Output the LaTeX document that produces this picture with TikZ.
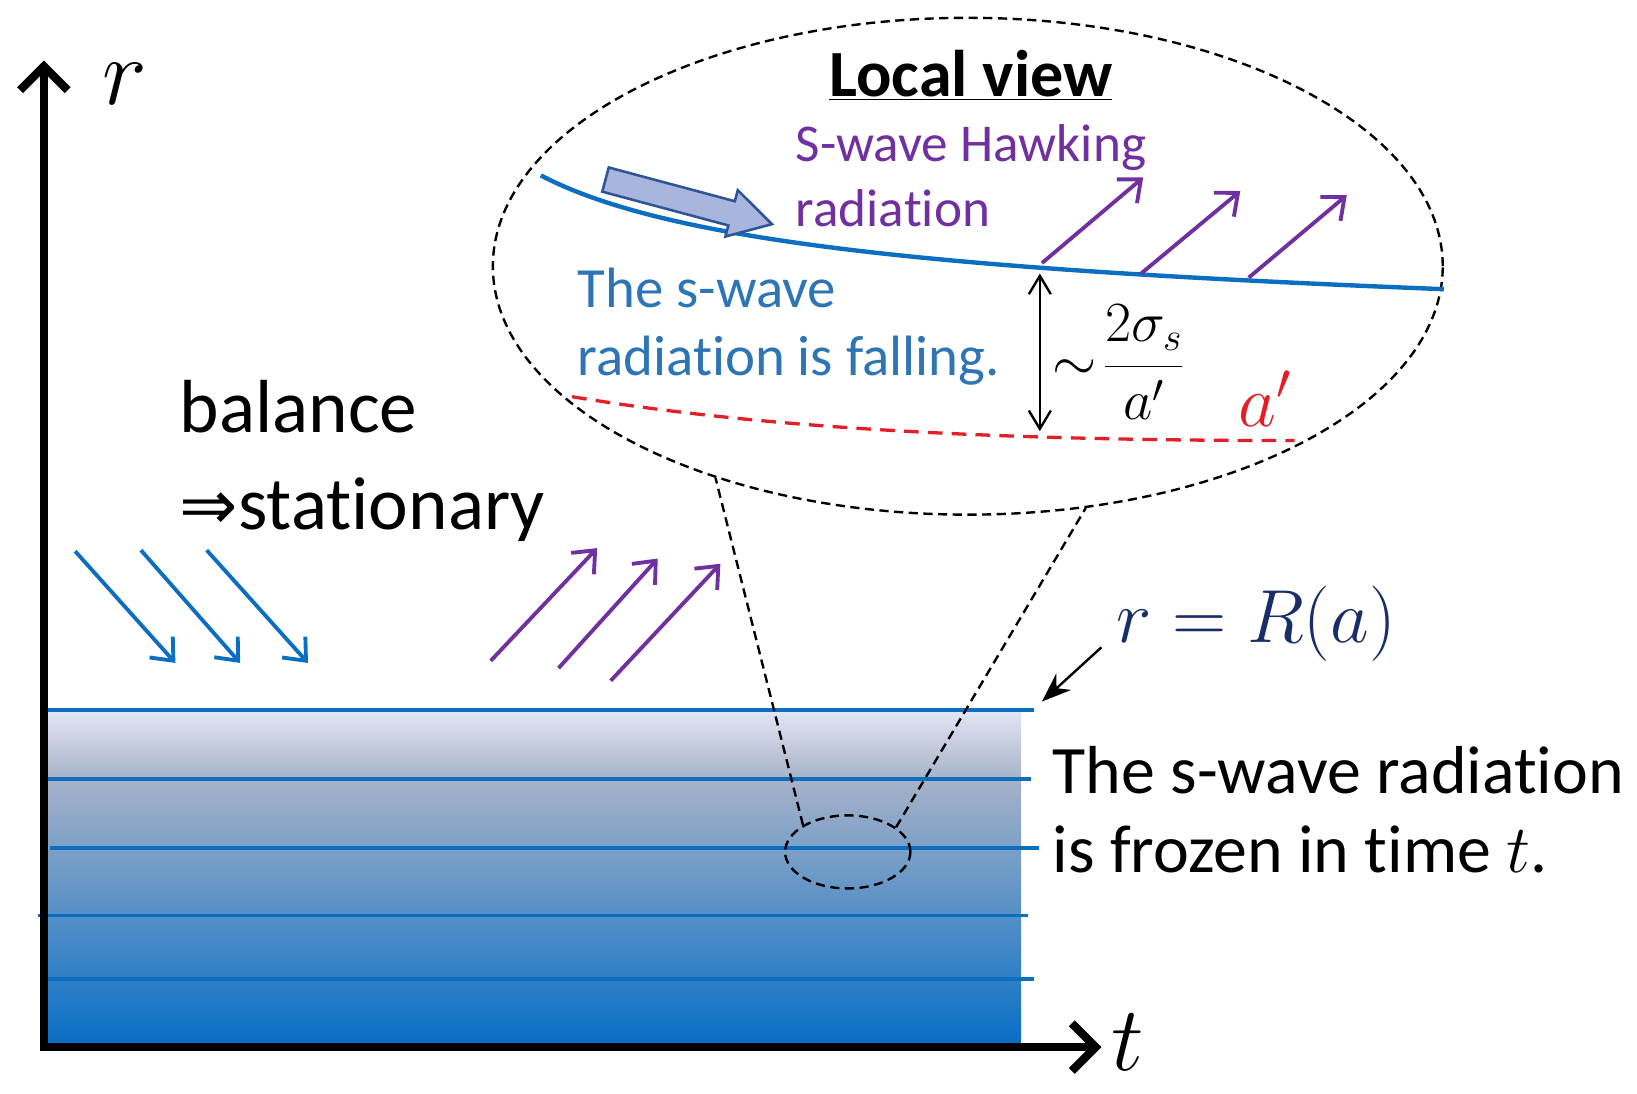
\RequirePackage{fix-cm}
\documentclass[tikz,border=0pt]{standalone}
\usepackage{fontspec}
\setmainfont{Carlito}[Ligatures=NoCommon]
\newfontfamily\djv{DejaVu Sans}
\usetikzlibrary{arrows.meta,shapes.geometric}
\definecolor{lineblue}{RGB}{12,110,192}
\definecolor{txtblue}{RGB}{46,117,182}
\definecolor{purp}{RGB}{112,48,160}
\definecolor{navy}{RGB}{25,45,105}
\definecolor{redd}{RGB}{228,30,38}
\definecolor{gtop}{RGB}{226,228,243}
\definecolor{gmid}{RGB}{166,178,200}
\definecolor{gbot}{RGB}{8,110,198}
\definecolor{hfill}{RGB}{168,182,221}
\definecolor{hdraw}{RGB}{47,85,151}
\tikzset{
  axis/.style={line width=4.5pt,-{Straight Barb[length=13pt,width=26pt,line width=4.5pt]}},
  bline/.style={lineblue,line width=2pt},
  inarrow/.style={lineblue,line width=2.1pt,-{Straight Barb[length=10pt,width=17pt,line width=2.1pt]}},
  outarrow/.style={purp,line width=2.1pt,-{Straight Barb[length=10pt,width=17pt,line width=2.1pt]}},
  dsh/.style={black,line width=1.3pt,dash pattern=on 5pt off 3pt},
  txt/.style={inner sep=0pt,anchor=base west},
}
\begin{document}
\begin{tikzpicture}[x=0.02cm,y=-0.02cm]
\useasboundingbox (0,0) rectangle (1568,1047);
% shaded region
\shade[top color=gtop,bottom color=gmid] (45,682) rectangle (978,747);
\shade[top color=gmid,bottom color=gbot] (45,746) rectangle (978,1000);
\draw[bline] (45,680) -- (990,680);
\draw[bline] (38,746) -- (988,746);
\draw[bline] (48,812) -- (995,812);
\draw[bline] (36,877) -- (985,877);
\draw[bline] (42,938) -- (990,938);
% axes
\draw[axis] (42,1003) -- (42,58);
\draw[axis] (38,1003) -- (1055,1003);
\node[inner sep=0pt] (rlab) at (120,80) {\fontsize{52}{60}\selectfont $r$};
\node[inner sep=0pt] (tlab) at (1080,998) {\fontsize{50}{60}\selectfont $t$};
% incoming blue arrows
\draw[inarrow] (72,528) -- (168,635);
\draw[inarrow] (135,527) -- (230,635);
\draw[inarrow] (198,527) -- (295,635);
% outgoing purple arrows
\draw[outarrow] (470,633) -- (572,525);
\draw[outarrow] (535,640) -- (630,535);
\draw[outarrow] (585,652) -- (690,540);
% texts left
\node[txt] (bal) at (172,414) {\fontsize{41}{49}\selectfont balance};
\node[txt] (stat) at (172,507) {\fontsize{41}{49}\selectfont {\djv\fontsize{38}{43}\selectfont ⇒}stationary};
% r = R(a)
\node[inner sep=0pt,navy] (Rlab) at (1203,597) {\fontsize{41}{48}\selectfont $r=R(a)$};
\coordinate (Rfrom) at (1055,620);
\coordinate (Rto) at (998,672);
\draw[line width=1.3pt,-{Stealth[length=16pt,width=12pt]}] (Rfrom) -- (Rto);
% frozen text
\node[txt] (fr1) at (1008,760) {\fontsize{37}{44}\selectfont The s-wave radiation};
\node[txt] (fr2) at (1008,836) {\fontsize{37}{44}\selectfont is frozen in time $t$.};
% ellipses
\node[dsh,draw,ellipse,inner sep=0pt,minimum width=2.4cm,minimum height=1.4cm] (small) at (812,816) {};
\node[dsh,draw,ellipse,inner sep=0pt,minimum width=18.2cm,minimum height=9.52cm] (big) at (927,255) {};
\draw[dsh] (small.149) -- (big.220);
\draw[dsh] (small.27) -- (big.-64);
% local view content
\node[inner sep=0pt,anchor=base] (lv) at (930,92) {\fontsize{36}{43}\selectfont\underline{\textbf{Local view}}};
\node[txt,purp] (hw1) at (762,155) {\fontsize{29}{35}\selectfont S-wave Hawking};
\node[txt,purp] (hw2) at (762,217) {\fontsize{29}{35}\selectfont radiation};
\draw[lineblue,line width=2.4pt] (518,168) .. controls (640,232) and (900,258) .. (1383,277);
\begin{scope}[shift={(580,172)},rotate=-15]
\draw[hdraw,line width=1.4pt,fill=hfill] (0,-12) -- (125,-12) -- (125,-23) -- (165,0) -- (125,23) -- (125,12) -- (0,12) -- cycle;
\end{scope}
\draw[outarrow] (998,252) -- (1095,170);
\draw[outarrow] (1093,262) -- (1188,183);
\draw[outarrow] (1196,266) -- (1290,187);
\node[txt,txtblue] (fa1) at (553,295) {\fontsize{31}{37}\selectfont The s-wave};
\node[txt,txtblue] (fa2) at (553,360) {\fontsize{31}{37}\selectfont radiation is falling.};
\draw[redd,line width=1.8pt,dash pattern=on 8pt off 5pt] (548,380) .. controls (700,405) and (900,422) .. (1240,422);
\coordinate (dtop) at (996,262);
\coordinate (dbot) at (996,413);
\draw[line width=1.3pt,{Straight Barb[length=10pt,width=12pt]}-{Straight Barb[length=10pt,width=12pt]}] (dtop) -- (dbot);
\node[inner sep=0pt,anchor=west] (frac) at (1008,347) {\fontsize{31}{36}\selectfont $\displaystyle\sim\!\frac{2\sigma_s}{a'}$};
\node[inner sep=0pt,redd] (ap) at (1212,382) {\fontsize{40}{46}\selectfont $a'$};
\end{tikzpicture}
\end{document}
